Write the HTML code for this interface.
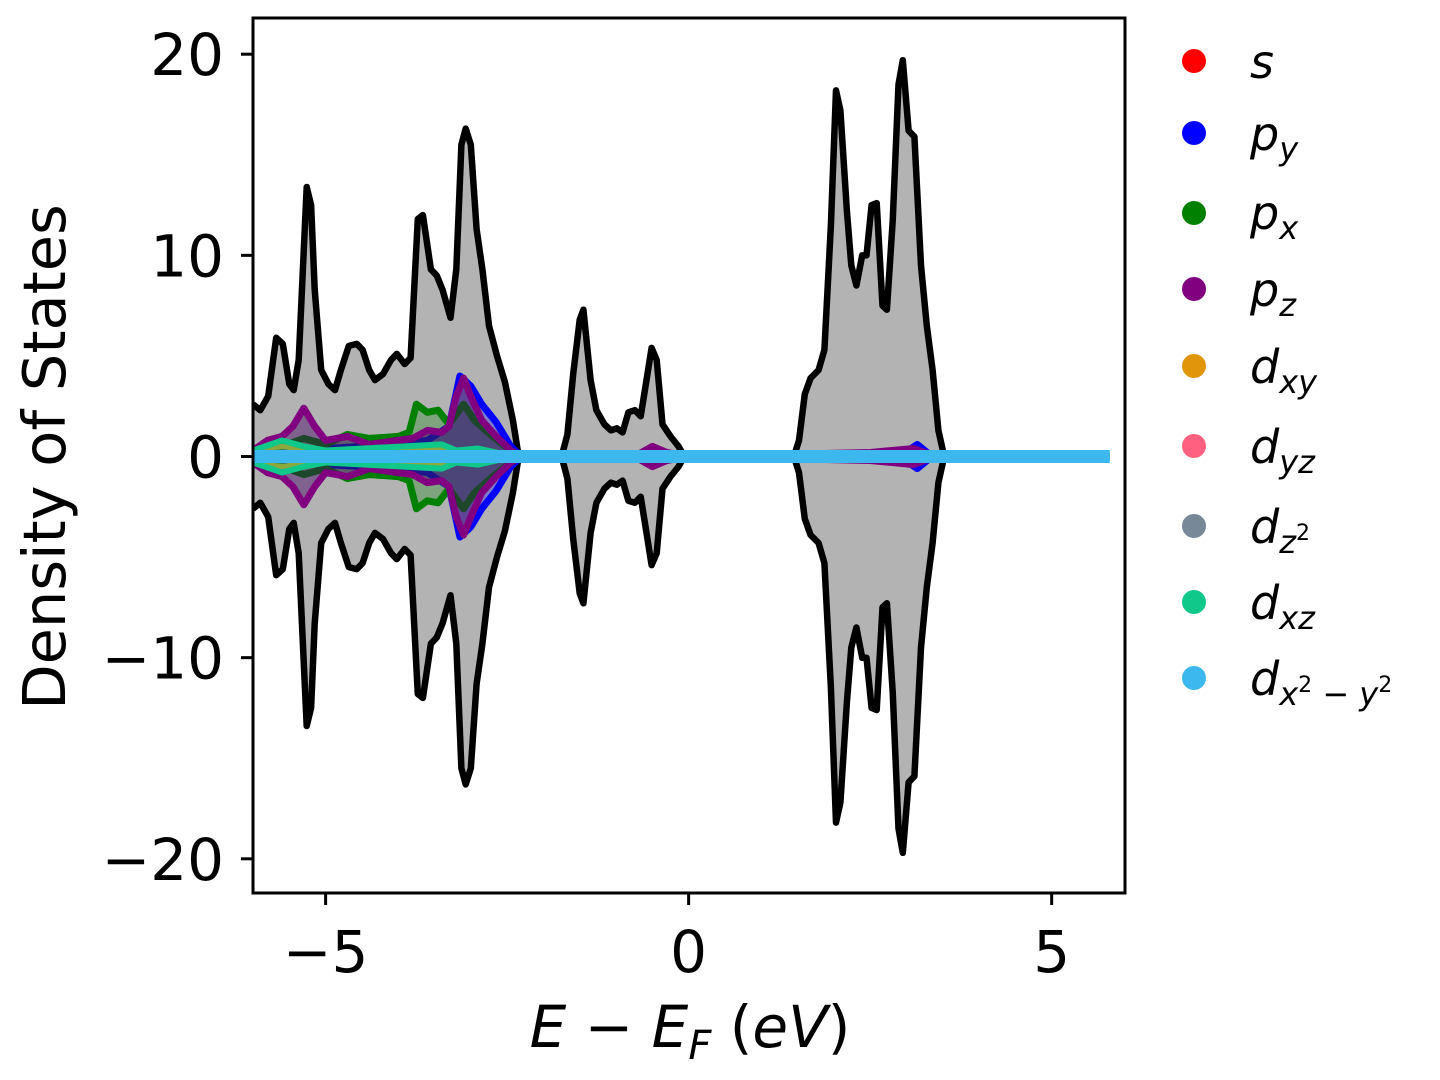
<!DOCTYPE html>
<html><head><meta charset="utf-8"><style>
html,body{margin:0;padding:0;background:#fff;}
svg{display:block;font-family:"DejaVu Sans","Liberation Sans",sans-serif;}
</style></head><body>
<svg id="chart" width="1440" height="1080" viewBox="0 0 1440 1080" xmlns="http://www.w3.org/2000/svg">
<defs><clipPath id="clip"><rect x="253" y="18" width="872" height="875"/></clipPath></defs>
<g id="plot" clip-path="url(#clip)"></g>
<rect x="253" y="18" width="872" height="875" fill="none" stroke="#000" stroke-width="3"/>
<g id="xticks"></g>
<g id="yticks"></g>
<text x="690" y="1047" text-anchor="middle" font-size="58" font-style="italic">E − E<tspan font-size="40" dy="12">F</tspan><tspan dy="-12" font-style="normal"> (</tspan>eV<tspan font-style="normal">)</tspan></text>
<text transform="translate(65,457) rotate(-90)" text-anchor="middle" font-size="59">Density of States</text>
<g id="legend" font-size="46" font-style="italic">
<g><circle cx="1194" cy="61" r="12" fill="#ff0000"/><text x="1250" y="78">s</text></g>
<g><circle cx="1194" cy="133" r="12" fill="#0000ff"/><text x="1250" y="150">p<tspan font-size="32" dy="10">y</tspan></text></g>
<g><circle cx="1194" cy="213" r="12" fill="#008000"/><text x="1250" y="229">p<tspan font-size="32" dy="10">x</tspan></text></g>
<g><circle cx="1194" cy="289" r="12" fill="#800080"/><text x="1250" y="306">p<tspan font-size="32" dy="10">z</tspan></text></g>
<g><circle cx="1194" cy="366" r="12" fill="#e0950a"/><text x="1250" y="383">d<tspan font-size="32" dy="10">xy</tspan></text></g>
<g><circle cx="1194" cy="446" r="12" fill="#ff6080"/><text x="1250" y="463">d<tspan font-size="32" dy="10">yz</tspan></text></g>
<g><circle cx="1194" cy="526" r="12" fill="#778899"/><text x="1250" y="543">d<tspan font-size="32" dy="10">z</tspan><tspan font-size="22" dy="-13" font-style="normal">2</tspan></text></g>
<g><circle cx="1194" cy="602" r="12" fill="#10c88a"/><text x="1250" y="619">d<tspan font-size="32" dy="10">xz</tspan></text></g>
<g><circle cx="1194" cy="678" r="12" fill="#3cb8ee"/><text x="1250" y="695">d<tspan font-size="32" dy="10">x</tspan><tspan font-size="22" dy="-13" font-style="normal">2</tspan><tspan font-size="32" dy="13"> − y</tspan><tspan font-size="22" dy="-13" font-style="normal">2</tspan></text></g>
</g>
</svg>
<script>
const totalE=[-6.0,-5.9,-5.79,-5.68,-5.59,-5.5,-5.44,-5.37,-5.26,-5.2,-5.15,-5.06,-4.96,-4.87,-4.79,-4.68,-4.57,-4.49,-4.4,-4.32,-4.21,-4.1,-4.02,-3.91,-3.83,-3.73,-3.66,-3.55,-3.47,-3.39,-3.28,-3.2,-3.13,-3.07,-3.0,-2.92,-2.84,-2.75,-2.64,-2.53,-2.42,-2.34,-1.75,-1.67,-1.59,-1.5,-1.45,-1.35,-1.27,-1.16,-1.07,-0.99,-0.91,-0.83,-0.74,-0.66,-0.58,-0.51,-0.44,-0.36,-0.25,-0.14,-0.06,1.45,1.52,1.6,1.68,1.79,1.87,1.96,2.03,2.09,2.18,2.24,2.31,2.39,2.45,2.52,2.59,2.67,2.73,2.81,2.89,2.95,3.03,3.11,3.2,3.28,3.36,3.44,3.52,5.8];
const totalV=[2.6,2.3,3.0,5.9,5.6,3.6,3.3,4.8,13.4,12.5,8.3,4.3,3.6,3.3,4.3,5.5,5.6,5.3,4.3,3.8,4.1,4.8,5.1,4.6,4.9,11.8,12.0,9.3,9.0,8.3,6.9,9.3,15.5,16.3,15.5,11.3,9.3,6.5,5.0,3.7,1.8,0,0,1.1,4.1,6.8,7.3,3.8,2.3,1.6,1.3,1.4,1.2,2.2,2.3,2.0,3.8,5.4,4.8,1.6,1.0,0.5,0,0,0.8,3.1,3.9,4.3,5.3,11.5,18.2,17.2,12.2,9.5,8.5,10.0,10.0,12.5,12.6,7.5,7.3,11.7,18.5,19.7,16.2,15.9,9.5,6.5,4.3,1.3,0,0];
const sE=[-6,-5.5,-5.3,-5.0,-4.5,-4.0,-3.6,-3.0,-2.4,-2.3,5.8];
const sV=[0.2,0.3,0.5,0.2,0.3,0.4,0.3,0.2,0.1,0,0];
const pyE=[-6,-4,-3.6,-3.3,-3.15,-3.0,-2.85,-2.65,-2.45,-2.3,2.9,3.15,3.35,5.8];
const pyV=[0.2,0.6,0.8,1.5,4.0,3.5,2.6,1.7,0.5,0,0,0.6,0,0];
const pxE=[-6,-5.6,-5.3,-5.0,-4.7,-4.4,-4.0,-3.85,-3.75,-3.6,-3.45,-3.3,-3.1,-2.95,-2.7,-2.45,-2.3,2.8,3.0,3.4,5.8];
const pxV=[0.4,0.5,0.9,0.6,1.1,0.9,1.0,1.2,2.6,2.2,2.3,1.6,2.6,1.8,1.0,0.3,0,0,0.3,0,0];
const pzE=[-6,-5.8,-5.6,-5.45,-5.3,-5.15,-5.0,-4.7,-4.4,-4.0,-3.8,-3.6,-3.4,-3.3,-3.2,-3.1,-3.0,-2.85,-2.65,-2.45,-2.3,-0.7,-0.5,-0.3,0,2.5,3.1,3.4,5.8];
const pzV=[0.3,0.8,1.0,1.5,2.4,1.5,0.8,1.0,0.6,0.8,0.9,1.3,1.2,1.5,3.0,3.9,3.0,1.8,1.0,0.3,0,0.1,0.5,0.2,0,0.2,0.4,0,0];
const dxyE=[-6,-5.6,-5.0,-3.5,-2.4,5.8];
const dxyV=[0.3,0.5,0.2,0.4,0,0];
const dxzE=[-6,-5.6,-5.3,-5.0,-3.4,-3.2,-2.9,-2.4,5.8];
const dxzV=[0.3,0.8,0.5,0.3,0.6,0.3,0.4,0,0];
const dx2E=[-6,5.8];
const dx2V=[0.15,0.15];
const xTicks=[-5,0,5];
const yTicks=[20,10,0,-10,-20];
const yTickLabels=["20","10","0","−10","−20"];
const xTickLabels=["−5","0","5"];

const X0=253,X1=1125,XMIN=-6,XMAX=6.01;
const Y0=893,Y1=18,YMIN=-21.7,YMAX=21.8;
const sx=e=>X0+(e-XMIN)/(XMAX-XMIN)*(X1-X0);
const sy=v=>Y0-(v-YMIN)/(YMAX-YMIN)*(Y0-Y1);
const NS="http://www.w3.org/2000/svg";
const plot=document.getElementById('plot');
function mk(tag,attrs,parent){const el=document.createElementNS(NS,tag);for(const k in attrs)el.setAttribute(k,attrs[k]);parent.appendChild(el);return el;}
function linePts(E,V,sign){return E.map((e,i)=>sx(e).toFixed(1)+','+sy(sign*V[i]).toFixed(1)).join(' ');}
function series(name,E,V,stroke,fill,fop,w){
  const g=mk('g',{},plot);
  
  
  const up=linePts(E,V,1),dn=linePts(E,V,-1);
  const rev=E.map((e,i)=>sx(e).toFixed(1)+','+sy(-V[i]).toFixed(1)).reverse().join(' ');
  const f=mk('polygon',{points:up+' '+rev,fill:fill,'fill-opacity':fop,stroke:'none'},g);
  
  
  const l1=mk('polyline',{points:up,fill:'none',stroke:stroke,'stroke-width':w,'stroke-linejoin':'round'},g);
  
  
  const l2=mk('polyline',{points:dn,fill:'none',stroke:stroke,'stroke-width':w,'stroke-linejoin':'round'},g);
  
  
}
series('total',totalE,totalV,'#000','#b3b3b3',1,6.5);
series('s',sE,sV,'#ff0000','#ff0000',0.3,5);
series('py',pyE,pyV,'#0000ff','#0000ff',0.3,7);
series('px',pxE,pxV,'#008000','#008000',0.3,7);
series('pz',pzE,pzV,'#800080','#400060',0.45,7);
series('dxy',dxyE,dxyV,'#e0950a','#e0950a',0.3,5);
series('dxz',dxzE,dxzV,'#10c88a','#10c88a',0.4,6);
series('dx2y2',dx2E,dx2V,'#3cb8ee','#3cb8ee',1,7);

const xg=document.getElementById('xticks');
xTicks.forEach((t,i)=>{
  const l=mk('line',{x1:sx(t),x2:sx(t),y1:893,y2:905,stroke:'#000','stroke-width':3},xg);
  
  
  const tx=mk('text',{x:sx(t),y:972,'text-anchor':'middle','font-size':58},xg);
  
  
  tx.textContent=xTickLabels[i];
});
const yg=document.getElementById('yticks');
yTicks.forEach((t,i)=>{
  const l=mk('line',{x1:241,x2:253,y1:sy(t),y2:sy(t),stroke:'#000','stroke-width':3},yg);
  
  
  const tx=mk('text',{x:224,y:sy(t)+21,'text-anchor':'end','font-size':58},yg);
  
  
  tx.textContent=yTickLabels[i];
});
</script>
</body></html>
